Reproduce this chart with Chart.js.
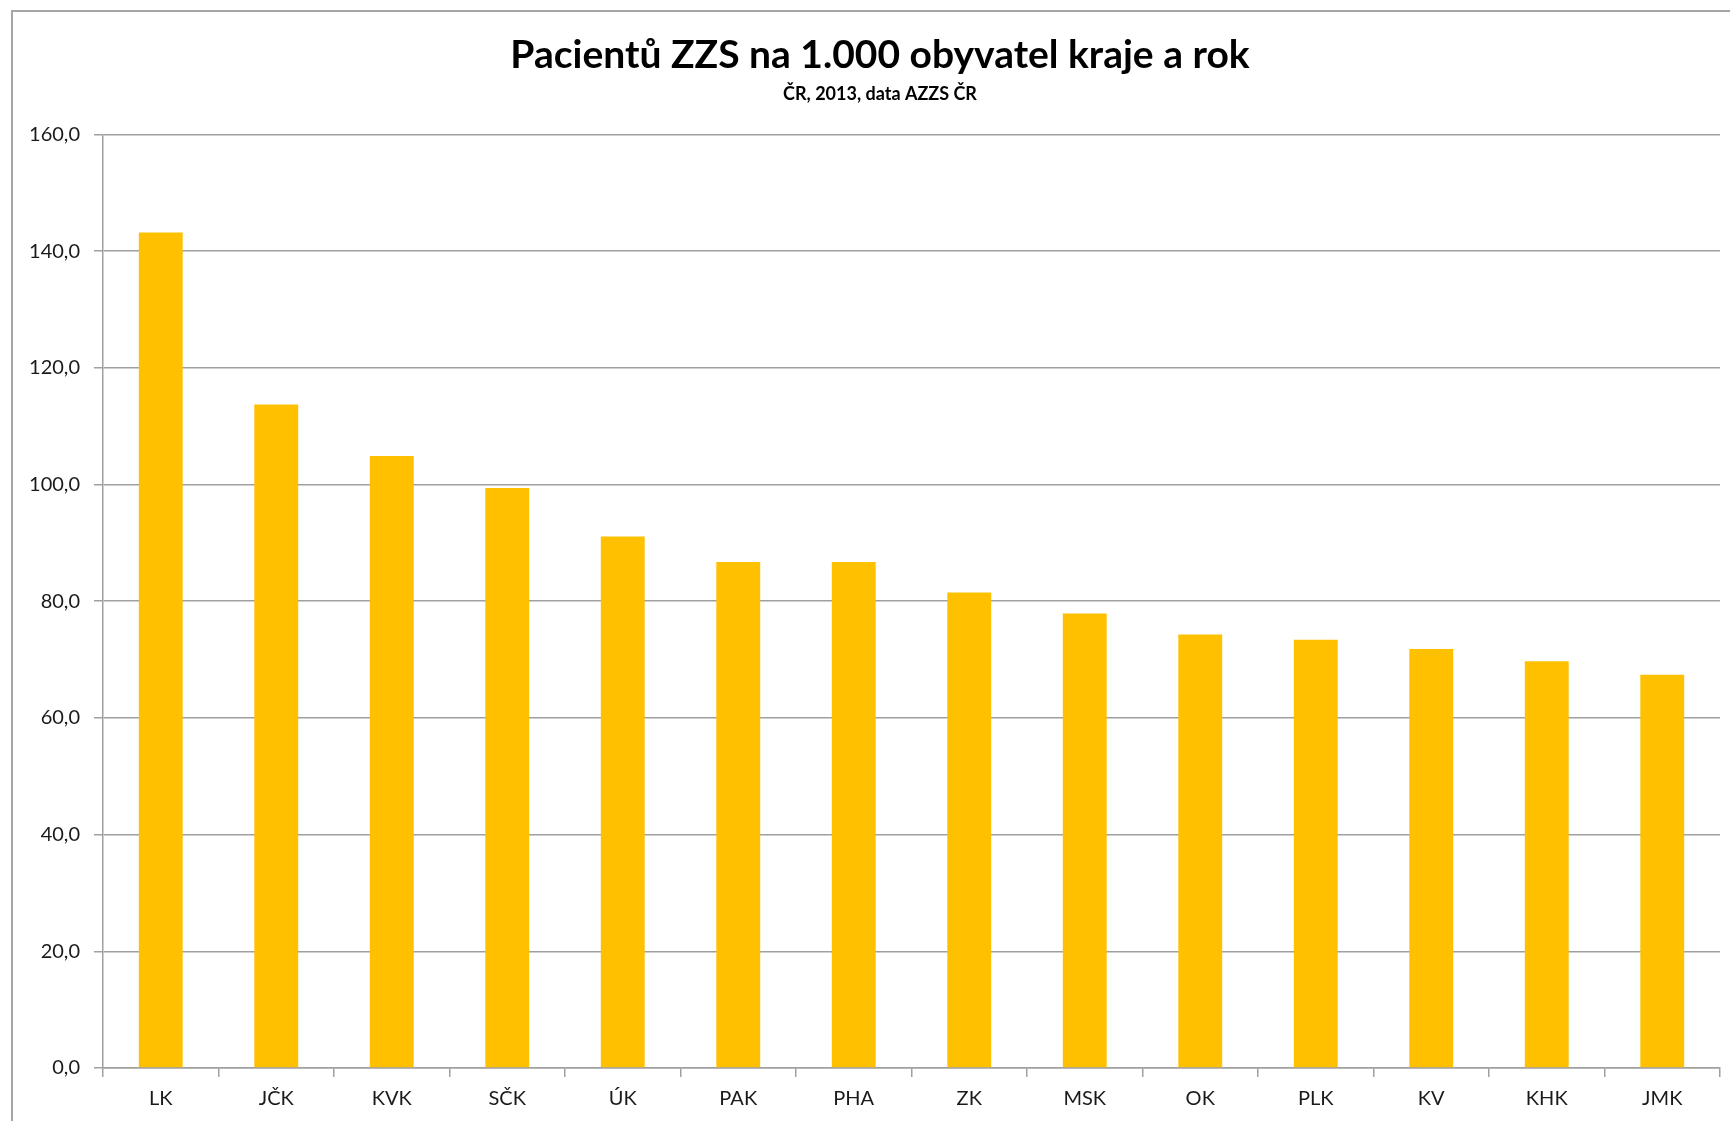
<!DOCTYPE html>
<html>
<head>
<meta charset="utf-8">
<script src="https://cdn.jsdelivr.net/npm/chart.js@4/dist/chart.umd.min.js"></script>
<style>
  html, body { margin: 0; padding: 0; background: #fff; overflow: hidden; }
  #wrap { position: relative; width: 1730px; height: 1121px; }
  #frame { position: absolute; left: 11px; top: 10px; width: 1730px; height: 1130px;
           border-left: 2px solid #a6a6a6; border-top: 2px solid #a6a6a6; pointer-events: none; }
  canvas { position: absolute; left: 0; top: 0; }
</style>
</head>
<body>
<div id="wrap">
  <canvas id="c" width="1730" height="1121"></canvas>
  <div id="frame"></div>
</div>
<script>
const categories = ["LK", "JČK", "KVK", "SČK", "ÚK", "PAK", "PHA", "ZK", "MSK", "OK", "PLK", "KV", "KHK", "JMK"];
const values = [143.2, 113.7, 104.9, 99.4, 91.1, 86.7, 86.7, 81.5, 77.9, 74.3, 73.4, 71.8, 69.7, 67.4];
const titleText = "Pacientů ZZS na 1.000 obyvatel kraje a rok";
const subtitleText = "ČR, 2013, data AZZS ČR";
const yMin = 0, yMax = 160, yStep = 20;

const fam = "Lato, 'Open Sans', sans-serif";
const gridColor = "#a0a0a0";

// shift the title/subtitle block centre slightly to the right, as in the original
const titleShift = {
  id: "titleShift",
  afterLayout(chart) {
    chart.boxes.forEach((b) => {
      if (b.position === "top" && b.options && b.options.text !== undefined) {
        b.left += 20;
        b.right += 20;
      }
    });
  }
};

new Chart(document.getElementById("c"), {
  type: "bar",
  data: {
    labels: categories,
    datasets: [{
      data: values,
      backgroundColor: "#FFC000",
      borderWidth: 0,
      barPercentage: 0.38,
      categoryPercentage: 1.0
    }]
  },
  plugins: [titleShift],
  options: {
    responsive: false,
    animation: false,
    layout: { padding: { left: 0, right: 10, top: 0, bottom: 0 } },
    plugins: {
      legend: { display: false },
      tooltip: { enabled: false },
      title: {
        display: true,
        text: titleText,
        color: "#000",
        font: { family: fam, size: 39, weight: "bold", lineHeight: 1.2 },
        padding: { top: 32, bottom: 5 }
      },
      subtitle: {
        display: true,
        text: subtitleText,
        color: "#000",
        font: { family: fam, size: 18, weight: "bold", lineHeight: 1.2 },
        padding: { top: 0, bottom: 29 }
      }
    },
    scales: {
      x: {
        grid: { display: true, drawOnChartArea: false, drawTicks: true, tickLength: 9,
                color: gridColor, lineWidth: 1.5, offset: true },
        border: { display: true, color: gridColor, width: 1.5 },
        ticks: { color: "#1a1a1a", font: { family: fam, size: 20 }, padding: 10, maxRotation: 0 },
        afterFit: (s) => { s.height = 53; }
      },
      y: {
        min: yMin, max: yMax,
        ticks: {
          stepSize: yStep,
          color: "#1a1a1a",
          font: { family: fam, size: 20 },
          padding: 14,
          callback: (v) => v.toFixed(1).replace(".", ",")
        },
        grid: { color: gridColor, lineWidth: 1.5, drawTicks: true, tickLength: 9 },
        border: { display: true, color: gridColor, width: 1.5 },
        afterFit: (s) => { s.width = 103; }
      }
    }
  }
});
</script>
</body>
</html>
